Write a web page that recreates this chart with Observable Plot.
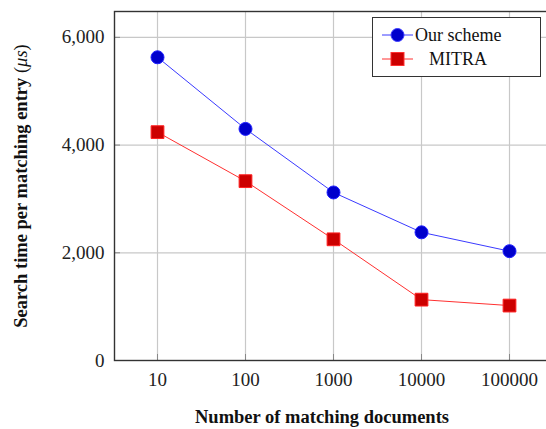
<!DOCTYPE html>
<html>
<head>
<meta charset="utf-8">
<script src="https://cdn.jsdelivr.net/npm/d3@7"></script>
<script src="https://cdn.jsdelivr.net/npm/@observablehq/plot@0.6"></script>
<style>
  html, body { margin: 0; padding: 0; background: #fff; }
  #wrap { position: relative; width: 546px; height: 429px; overflow: hidden; font-family: "Liberation Serif", "Times New Roman", serif; }
  #legend { position: absolute; left: 372px; top: 17px; width: 167px; height: 58px; border: 1.3px solid #333; background: #fff; }
  #legend .row { position: absolute; left: 0; height: 24px; width: 100%; }
  #legend svg { position: absolute; left: 8px; top: 0; }
  #legend span { position: absolute; font-size: 18px; color: #111; line-height: 24px; }
</style>
</head>
<body>
<div id="wrap">
  <div id="chart"></div>
  <div id="legend"></div>
</div>
<script>
const categories = ["10", "100", "1000", "10000", "100000"];
const ourScheme = [5630, 4300, 3120, 2380, 2030];
const mitra = [4240, 3330, 2250, 1130, 1020];
const seriesNames = ["Our scheme", "MITRA"];
const yTicks = [0, 2000, 4000, 6000];
const yLabelMain = "Search time per matching entry ";
const yLabelUnit = "μs";

const data = [
  ...categories.map((c, i) => ({x: c, y: ourScheme[i], s: seriesNames[0]})),
  ...categories.map((c, i) => ({x: c, y: mitra[i], s: seriesNames[1]}))
];
const our = data.filter(d => d.s === seriesNames[0]);
const mit = data.filter(d => d.s === seriesNames[1]);

const chart = Plot.plot({
  width: 546,
  height: 429,
  marginLeft: 114,
  marginRight: -5,
  marginTop: 11,
  marginBottom: 69,
  style: {fontFamily: "Liberation Serif, Times New Roman, serif", fontSize: "19px", color: "#222", background: "#fff"},
  x: {type: "point", domain: categories, padding: 0.462},
  y: {domain: [0, 6480]},
  marks: [
    Plot.gridX(categories, {stroke: "#c8c8c8", strokeOpacity: 1, strokeWidth: 1.2}),
    Plot.gridY(yTicks, {stroke: "#c8c8c8", strokeOpacity: 1, strokeWidth: 1.2}),
    Plot.axisX(categories, {tickSize: -6, tickPadding: 18, stroke: "#888", fontSize: 19, label: "Number of matching documents", labelAnchor: "center", labelOffset: 62, labelArrow: false}),
    Plot.axisY(yTicks, {tickSize: -6, tickPadding: 16, stroke: "#888", tickFormat: d3.format(","), fontSize: 19, label: null}),
    Plot.text([yLabelMain + "(" + yLabelUnit + ")"], {frameAnchor: "left", textAnchor: "middle", rotate: -90, dx: -93, fontWeight: "bold", fontSize: 18.5, fill: "#111"}),
    Plot.frame({stroke: "#333", strokeWidth: 1.4}),
    Plot.line(our, {x: "x", y: "y", stroke: "#3a3aff", strokeWidth: 1}),
    Plot.line(mit, {x: "x", y: "y", stroke: "#ff3030", strokeWidth: 1}),
    Plot.dot(our, {x: "x", y: "y", r: 6.5, symbol: "circle", fill: "#0000cc", stroke: "#2020ff", strokeWidth: 1}),
    Plot.dot(mit, {x: "x", y: "y", r: 7.2, symbol: "square", fill: "#cc0000", stroke: "#ff2020", strokeWidth: 1})
  ]
});
document.getElementById("chart").appendChild(chart);

// style x-axis label as bold
chart.querySelectorAll("[aria-label='x-axis label'] text").forEach(t => { t.setAttribute("font-weight", "bold"); t.setAttribute("font-size", "18.5"); t.setAttribute("fill", "#111"); t.setAttribute("dx", "-11"); });

// y label: unit in regular weight, μ italic
chart.querySelectorAll("[aria-label='text'] text").forEach(t => {
  if (t.textContent.startsWith(yLabelMain)) {
    const ns = "http://www.w3.org/2000/svg";
    t.textContent = yLabelMain;
    const p1 = document.createElementNS(ns, "tspan");
    p1.setAttribute("font-weight", "normal"); p1.textContent = "(";
    const p2 = document.createElementNS(ns, "tspan");
    p2.setAttribute("font-weight", "normal"); p2.setAttribute("font-style", "italic"); p2.textContent = yLabelUnit;
    const p3 = document.createElementNS(ns, "tspan");
    p3.setAttribute("font-weight", "normal"); p3.textContent = ")";
    t.appendChild(p1); t.appendChild(p2); t.appendChild(p3);
  }
});

// legend
const legend = document.getElementById("legend");
const legendItems = [
  {name: seriesNames[0], color: "#3a3aff", fill: "#0000cc", shape: "circle", top: 5, textLeft: 42},
  {name: seriesNames[1], color: "#ff3030", fill: "#cc0000", shape: "square", top: 29, textLeft: 56}
];
legendItems.forEach(it => {
  const row = document.createElement("div");
  row.className = "row";
  row.style.top = it.top + "px";
  const ns = "http://www.w3.org/2000/svg";
  const svg = document.createElementNS(ns, "svg");
  svg.setAttribute("width", 34); svg.setAttribute("height", 24);
  const ln = document.createElementNS(ns, "line");
  ln.setAttribute("x1", 1); ln.setAttribute("x2", 32); ln.setAttribute("y1", 12); ln.setAttribute("y2", 12);
  ln.setAttribute("stroke", it.color); ln.setAttribute("stroke-width", 1);
  svg.appendChild(ln);
  let m;
  if (it.shape === "circle") {
    m = document.createElementNS(ns, "circle");
    m.setAttribute("cx", 16.5); m.setAttribute("cy", 12); m.setAttribute("r", 6.5);
  } else {
    m = document.createElementNS(ns, "rect");
    m.setAttribute("x", 10); m.setAttribute("y", 5.5); m.setAttribute("width", 13); m.setAttribute("height", 13);
  }
  m.setAttribute("fill", it.fill); m.setAttribute("stroke", it.color);
  svg.appendChild(m);
  row.appendChild(svg);
  const sp = document.createElement("span");
  sp.textContent = it.name;
  sp.style.left = it.textLeft + "px";
  row.appendChild(sp);
  legend.appendChild(row);
});
</script>
</body>
</html>
